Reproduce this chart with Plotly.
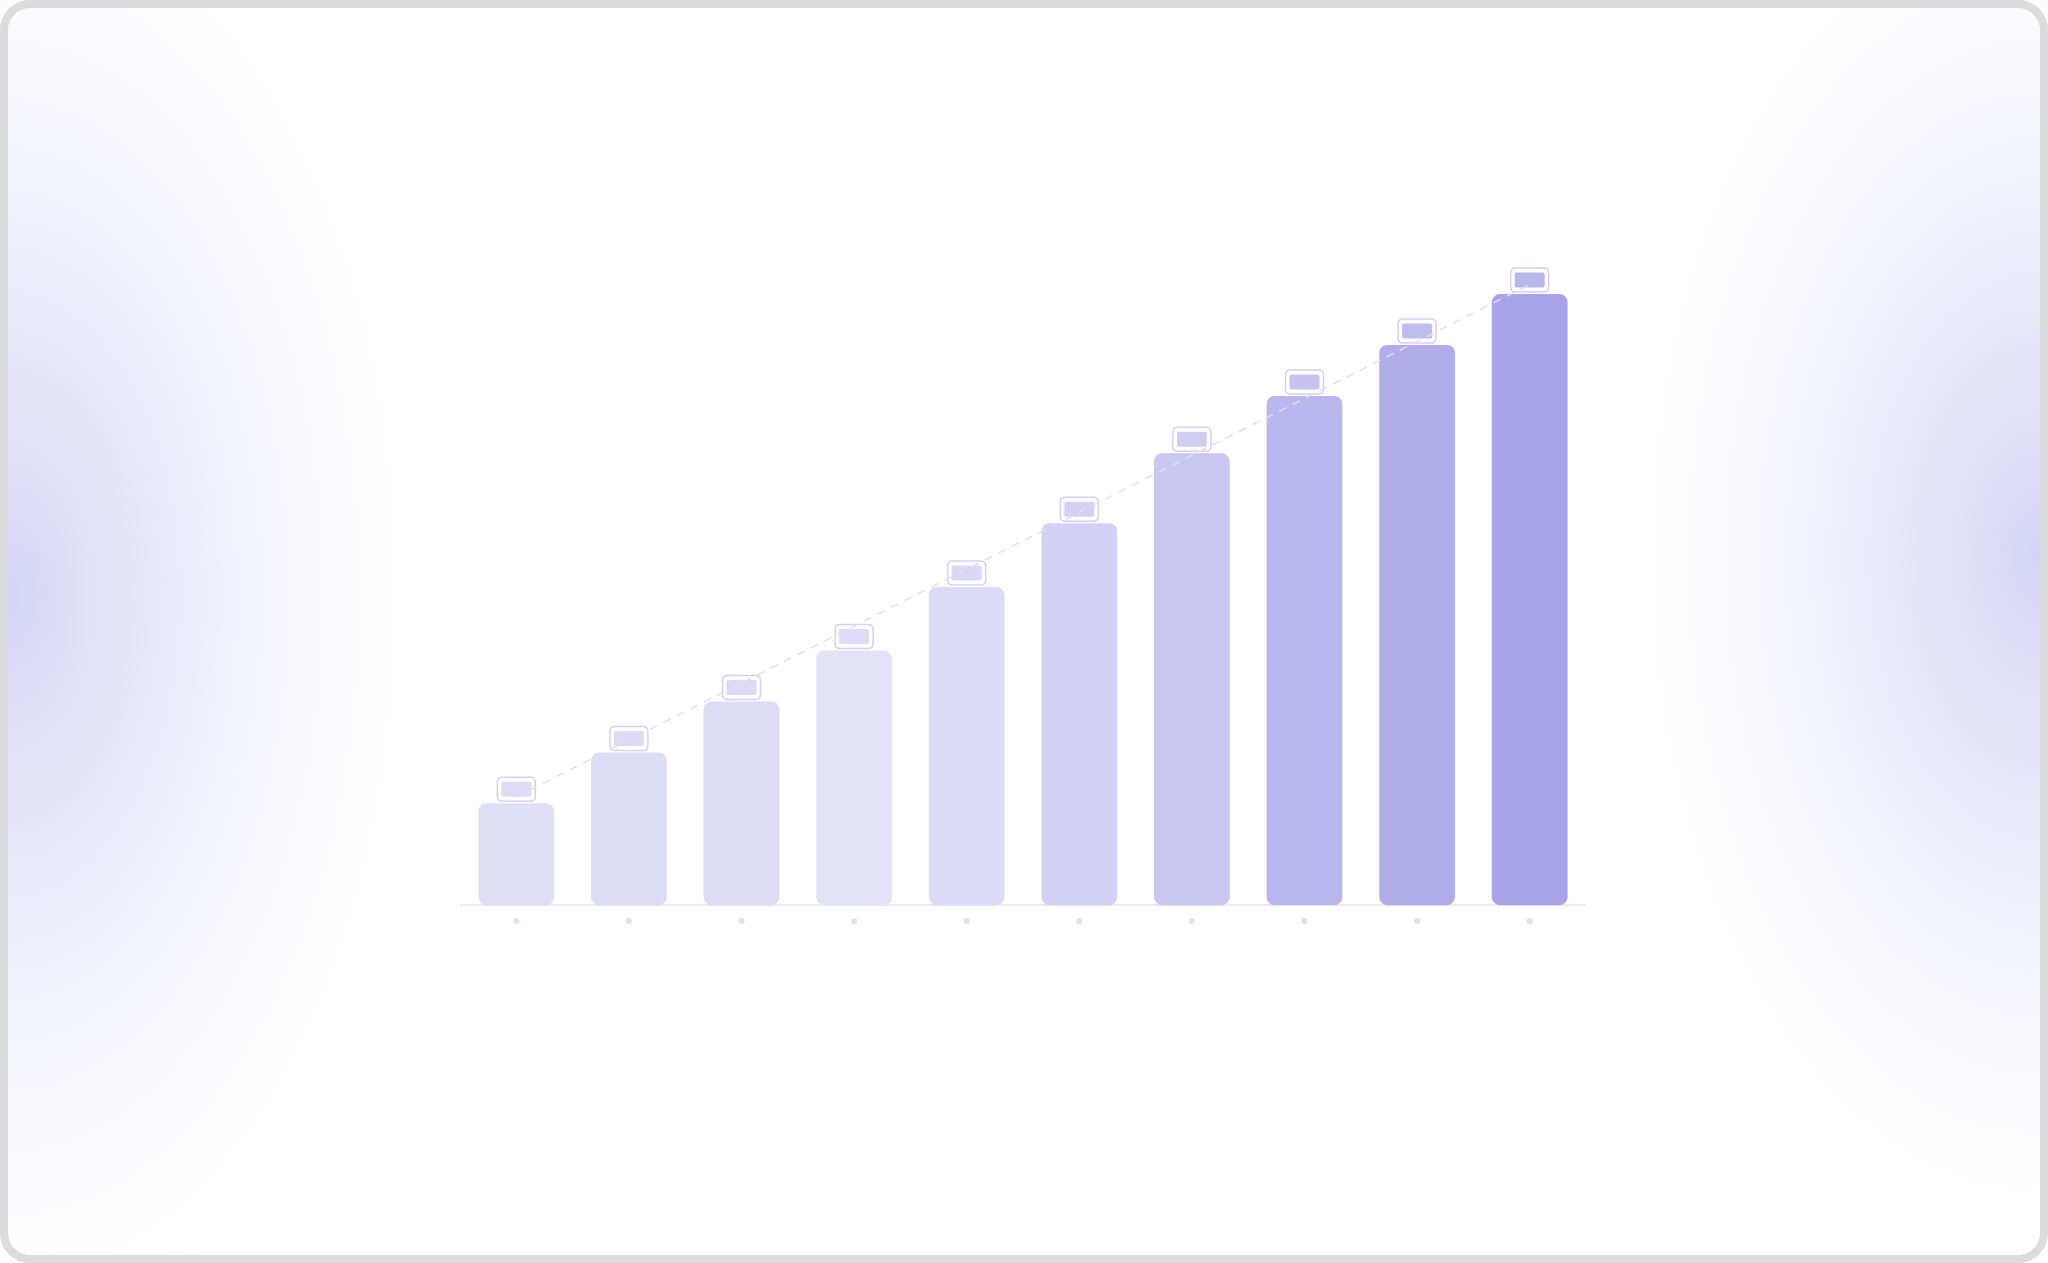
import base64
import plotly.graph_objects as go

# data (no visible labels, so periods are plain indices)
periods = [1, 2, 3, 4, 5, 6, 7, 8, 9, 10]
values = [16, 24, 32, 40, 50, 60, 71, 80, 88, 96]

# styling
bar_colors = ["#dfdef5", "#dddcf5", "#dddcf4", "#e3e2f7", "#dcdbf5",
              "#d4d2f4", "#cac8f0", "#b9b7ed", "#b0ade9", "#a8a4e7"]
box_fill = ["#dddcf6", "#dcdbf6", "#dcdbf6", "#dddcf6", "#d9d8f5",
            "#d4d2f3", "#cfcdf1", "#c6c4ef", "#bfbdee", "#bab7ec"]

W, H = 2048, 1263
L, R, T, B = 460, 462, 205, 326
PW, PH = W - L - R, H - T - B


# soft lavender glows + rounded grey frame, drawn as an inline svg background
def background_svg():
    svg = f"""<svg xmlns='http://www.w3.org/2000/svg' width='{W}' height='{H}' viewBox='0 0 {W} {H}'>
<defs>
<radialGradient id='g'>
<stop offset='0' stop-color='#d5d5f6' stop-opacity='1'/>
<stop offset='0.25' stop-color='#e2e2f8' stop-opacity='0.95'/>
<stop offset='0.55' stop-color='#efeffb' stop-opacity='0.8'/>
<stop offset='0.8' stop-color='#f8f8fd' stop-opacity='0.5'/>
<stop offset='1' stop-color='#ffffff' stop-opacity='0'/>
</radialGradient>
</defs>
<rect x='0' y='0' width='{W}' height='{H}' fill='#ffffff'/>
<ellipse cx='8' cy='595' rx='420' ry='740' fill='url(#g)'/>
<ellipse cx='2040' cy='555' rx='420' ry='690' fill='url(#g)'/>
<rect x='4' y='4' width='{W - 8}' height='{H - 8}' rx='26' ry='26' fill='none' stroke='#dcdcdf' stroke-width='8'/>
</svg>"""
    return "data:image/svg+xml;base64," + base64.b64encode(svg.encode()).decode()


# rounded rectangle path in pixel offsets around (0, cy)
def rounded_rect(w, h, r, cy):
    x0, x1 = -w / 2, w / 2
    y0, y1 = cy - h / 2, cy + h / 2
    return (f"M{x0 + r},{y0} L{x1 - r},{y0} Q{x1},{y0} {x1},{y0 + r} "
            f"L{x1},{y1 - r} Q{x1},{y1} {x1 - r},{y1} L{x0 + r},{y1} "
            f"Q{x0},{y1} {x0},{y1 - r} L{x0},{y0 + r} Q{x0},{y0} {x0 + r},{y0} Z")


fig = go.Figure()

# an explicit base makes plotly round both ends of each bar
fig.add_trace(go.Bar(
    x=periods, y=values, base=[0] * len(values),
    width=0.673, marker=dict(color=bar_colors, cornerradius=8, line_width=0),
    hovertemplate="%{y}<extra></extra>", showlegend=False,
))

# dashed trend from first to last bar
fig.add_trace(go.Scatter(
    x=[periods[0], periods[-1]], y=[values[0] + 1, values[-1] + 1.5],
    mode="lines", line=dict(color="#e0def7", width=1.5, dash="8px,7px"),
    hoverinfo="skip", showlegend=False,
))

# small dots under each category
fig.add_trace(go.Scatter(
    x=periods, y=[-2.5] * len(periods), mode="markers",
    marker=dict(size=6, color="#e0dff6"), hoverinfo="skip", showlegend=False,
))

# empty value pills above bars
shapes = []
for i, (p, v) in enumerate(zip(periods, values)):
    shapes.append(dict(
        type="path", xref="x", yref="y", xsizemode="pixel", ysizemode="pixel",
        xanchor=p, yanchor=v, path=rounded_rect(38, 24, 5, 14),
        fillcolor="#ffffff", line=dict(color="#d3d1f4", width=1.5), layer="below",
    ))
    shapes.append(dict(
        type="path", xref="x", yref="y", xsizemode="pixel", ysizemode="pixel",
        xanchor=p, yanchor=v, path=rounded_rect(30, 15, 2, 14),
        fillcolor=box_fill[i], line=dict(width=0), layer="below",
    ))

fig.update_layout(
    width=W, height=H,
    margin=dict(l=L, r=R, t=T, b=B, pad=0),
    paper_bgcolor="#ffffff", plot_bgcolor="rgba(0,0,0,0)",
    barmode="overlay", showlegend=False,
    shapes=shapes,
    images=[dict(
        source=background_svg(), xref="paper", yref="paper",
        x=-L / PW, y=1 + T / PH, sizex=W / PW, sizey=H / PH,
        xanchor="left", yanchor="top", sizing="stretch", layer="below",
    )],
    xaxis=dict(range=[0.5, 10.5], showgrid=False, zeroline=False,
               showticklabels=False, ticks="", showline=False, fixedrange=True),
    yaxis=dict(range=[-5, 110], showgrid=False, zeroline=True,
               zerolinecolor="#ebeaf7", zerolinewidth=1.5,
               showticklabels=False, ticks="", showline=False, fixedrange=True),
)

# drop the default page margin so the figure sits flush in the window
fig.write_html("out.html", config={"displayModeBar": False},
               post_script="document.body.style.margin='0';document.body.style.overflow='hidden';")
